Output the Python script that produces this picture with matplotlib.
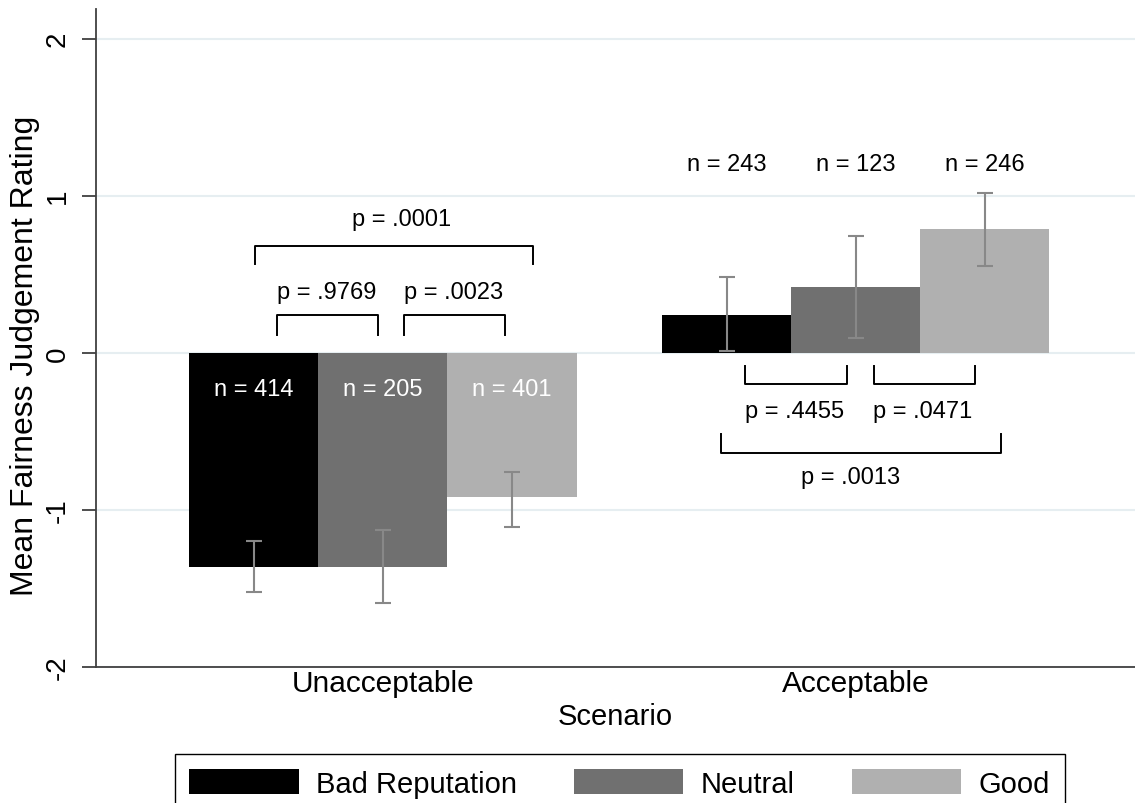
import matplotlib.pyplot as plt
import numpy as np

plt.rcParams['font.family'] = ['Liberation Sans', 'DejaVu Sans']

# Data
scenarios = ['Unacceptable', 'Acceptable']
groups = ['Bad Reputation', 'Neutral', 'Good']
colors = ['#000000', '#707070', '#b0b0b0']

means = {
    'Bad Reputation': [-1.36, 0.24],
    'Neutral': [-1.36, 0.42],
    'Good': [-0.92, 0.79],
}
ci_low = {
    'Bad Reputation': [-1.52, 0.01],
    'Neutral': [-1.59, 0.095],
    'Good': [-1.11, 0.555],
}
ci_high = {
    'Bad Reputation': [-1.20, 0.48],
    'Neutral': [-1.13, 0.745],
    'Good': [-0.76, 1.02],
}
n_counts = {
    'Bad Reputation': [414, 243],
    'Neutral': [205, 123],
    'Good': [401, 246],
}

# significance brackets: (x_left, x_right, y_bar, y_leg, label, x_text, y_text)
brackets = [
    (0.729, 1.317, 0.68, 0.567, 'p = .0001', 1.04, 0.85),
    (0.776, 0.989, 0.24, 0.115, 'p = .9769', 0.882, 0.39),
    (1.044, 1.258, 0.24, 0.115, 'p = .0023', 1.15, 0.39),
    (1.765, 1.981, -0.197, -0.083, 'p = .4455', 1.871, -0.37),
    (2.038, 2.252, -0.197, -0.083, 'p = .0471', 2.142, -0.37),
    (1.715, 2.307, -0.637, -0.516, 'p = .0013', 1.99, -0.79),
]

fig = plt.figure(figsize=(11.35, 8.04), dpi=100)
ax = fig.add_axes([0.0846, 0.169, 0.915, 0.819])

x = np.array([1, 2])
width = 0.273
offsets = [-width, 0, width]

for g, off, c in zip(groups, offsets, colors):
    m = np.array(means[g])
    lo = m - np.array(ci_low[g])
    hi = np.array(ci_high[g]) - m
    ax.bar(x + off, m, width=width, color=c, label=g, zorder=2)
    ax.errorbar(x + off, m, yerr=[lo, hi], fmt='none', ecolor='#888888',
                elinewidth=1.5, capsize=5.8, capthick=1.5, zorder=3)
    for i, xi in enumerate(x):
        if means[g][i] < 0:
            ax.text(xi + off, -0.23, 'n = %d' % n_counts[g][i], color='white',
                    ha='center', va='center', fontsize=17, zorder=4)
        else:
            ax.text(xi + off, 1.2, 'n = %d' % n_counts[g][i], color='black',
                    ha='center', va='center', fontsize=17, zorder=4)

for xl, xr, yb, yl, lab, xt, yt in brackets:
    ax.plot([xl, xl, xr, xr], [yl, yb, yb, yl], color='black', lw=1.4, zorder=4)
    ax.text(xt, yt, lab, ha='center', va='center', fontsize=17)

ax.set_xlim(0.393, 2.59)
ax.set_ylim(-2, 2.19)
ax.set_yticks([-2, -1, 0, 1, 2])
ax.set_yticklabels(['-2', '-1', '0', '1', '2'], rotation=90, va='center')
ax.set_xticks(x)
ax.set_xticklabels(scenarios)
ax.tick_params(axis='x', length=0, labelsize=21.5, pad=1)
ax.tick_params(axis='y', length=10, width=1.3, labelsize=20, pad=8, color='#404040')
ax.grid(axis='y', color='#e6eef1', lw=1.5, zorder=0)
ax.set_axisbelow(True)
for s in ['top', 'right']:
    ax.spines[s].set_visible(False)
for s in ['left', 'bottom']:
    ax.spines[s].set_color('#404040')
    ax.spines[s].set_linewidth(1.3)

ax.set_xlabel('Scenario', fontsize=21, labelpad=4)
ax.set_ylabel('Mean Fairness Judgement Rating', fontsize=23)
ax.yaxis.set_label_coords(-0.054, 0.474)

fig.legend(loc='upper center', bbox_to_anchor=(0.546, 0.0605), ncol=3,
           fontsize=21, frameon=True, fancybox=False, edgecolor='black',
           handlelength=3.75, handleheight=0.95, handletextpad=0.6,
           columnspacing=1.95, borderpad=0.5, borderaxespad=0, framealpha=1)

plt.savefig('out.png', dpi=100)
